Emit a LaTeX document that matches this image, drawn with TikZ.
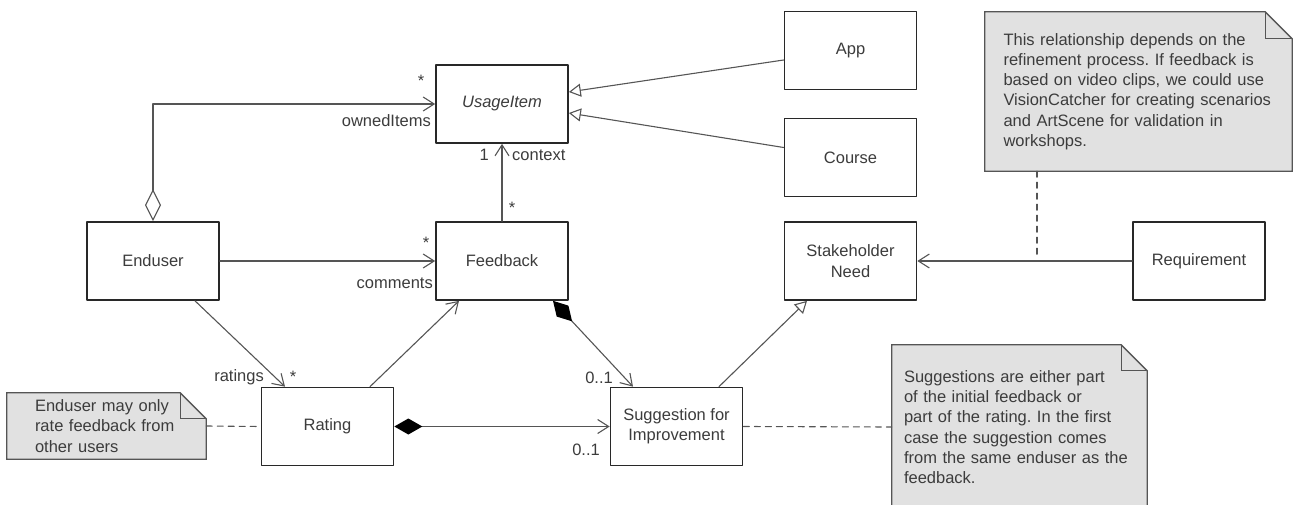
\documentclass[tikz,border=0pt]{standalone}
\usepackage{fontspec}
\setmainfont{Liberation Sans}
\usetikzlibrary{arrows.meta,backgrounds}
\frenchspacing

\definecolor{boxline}{RGB}{40,40,40}
\definecolor{linegray}{RGB}{85,85,85}
\definecolor{umltext}{RGB}{60,60,60}
\definecolor{notegray}{RGB}{225,225,225}
\definecolor{noteline}{RGB}{85,85,85}

\tikzset{
  classbox/.style={draw=boxline,line width=1.7pt,fill=white,minimum width=132pt,minimum height=78pt,inner sep=2pt,align=center,text=umltext},
  notebox/.style={inner sep=0pt,align=left,text=umltext},
  lbl/.style={inner sep=0pt,text=umltext},
  conn/.style={draw=linegray,line width=1.1pt},
  assoc/.style={conn,-{Straight Barb[length=11pt,width=14pt]}},
  aggr/.style={conn,{Diamond[open,length=32pt,width=16pt]}-{Straight Barb[length=11pt,width=14pt]}},
  comp/.style={conn,{Diamond[length=28pt,width=16pt,color=black,fill=black]}-{Straight Barb[length=11pt,width=14pt]}},
  gener/.style={conn,-{Triangle[open,length=12pt,width=13pt]}},
  notelink/.style={draw=linegray,line width=1.1pt,dash pattern=on 6pt off 5pt}
}

% folded corner drawn behind a note node
\newcommand{\notefold}[2]{%
  \begin{pgfonlayer}{background}
  \filldraw[fill=notegray,draw=noteline,line width=1.3pt] (#1.south west) -- (#1.north west) -- ([xshift=-#2]#1.north east) -- ([yshift=-#2]#1.north east) -- (#1.south east) -- cycle;
  \draw[draw=noteline,line width=1.3pt] ([xshift=-#2]#1.north east) |- ([yshift=-#2]#1.north east);
  \end{pgfonlayer}}

\begin{document}
\begin{tikzpicture}[line cap=round,line join=round,x=1pt,y=-1pt,font=\fontsize{16.5}{20.3}\selectfont]
\useasboundingbox (0,0) rectangle (1293,505);
\clip (0,0) rectangle (1293,505);

% classes
\node[classbox] (usage) at (502,104) {\itshape UsageItem};
\node[classbox] (app) at (850.5,50.5) {App};
\node[classbox] (course) at (850.5,157.5) {Course};
\node[classbox] (need) at (850.5,261) {Stakeholder\\Need};
\node[classbox] (req) at (1199,261) {Requirement};
\node[classbox] (enduser) at (153,261) {Enduser};
\node[classbox] (feedback) at (502,261) {Feedback};
\node[classbox] (rating) at (327.5,426.5) {Rating};
\node[classbox] (suggestion) at (676.5,426.5) {Suggestion for\\Improvement};

% notes
\node[notebox,minimum width=307pt,minimum height=159pt,text width=270pt] (note1) at (1138.5,91.5) {This relationship depends on the\\refinement process. If feedback is\\based on video clips, we could use\\VisionCatcher for creating scenarios\\and ArtScene for validation in\\workshops.};
\notefold{note1}{27pt}
\node[notebox,minimum width=199pt,minimum height=66pt,text width=143pt] (note2) at (106.5,426) {Enduser may only\\rate feedback from\\other users};
\notefold{note2}{26pt}
\node[notebox,minimum width=255pt,minimum height=164pt,text width=231pt] (note3) at (1019.5,427) {Suggestions are either part\\of the initial feedback or\\part of the rating. In the first\\case the suggestion comes\\from the same enduser as the\\feedback.};
\notefold{note3}{26pt}

% associations
\draw[aggr] (enduser.north) |- (usage.west);
\draw[assoc] (feedback.north) -- (usage.south);
\draw[assoc] (enduser.east) -- (feedback.west);
\draw[assoc] ([xshift=42pt]enduser.south) -- ([xshift=-42.5pt]rating.north);
\draw[assoc] ([xshift=42.5pt]rating.north) -- ([xshift=-43pt]feedback.south);
\draw[comp] ([xshift=51pt]feedback.south) -- ([xshift=-43.5pt]suggestion.north);
\draw[comp] (rating.east) -- (suggestion.west);
\draw[assoc] (req.west) -- (need.east);

% generalizations
\draw[gener] ([yshift=-9.5pt]app.west) -- ([yshift=12pt]usage.east);
\draw[gener] ([yshift=10pt]course.west) -- ([yshift=-9pt]usage.east);
\draw[gener] ([xshift=42.5pt]suggestion.north) -- ([xshift=-43.5pt]need.south);

% note links
\coordinate (link) at ([xshift=-101.5pt]note1.south);
\draw[notelink] (link) -- ([yshift=4pt]link |- req.west);
\draw[notelink] (note2.east) -- (rating.west);
\draw[notelink] (suggestion.east) -- (note3.west);

% role names and multiplicities
\node[lbl,anchor=base] (m1) at (421,87) {*};
\node[lbl,anchor=base east] (r1) at (431,127) {ownedItems};
\node[lbl,anchor=base east] (m2) at (489,161) {1};
\node[lbl,anchor=base west] (r2) at (512,161) {context};
\node[lbl,anchor=base] (m3) at (512,214) {*};
\node[lbl,anchor=base] (m4) at (426,248) {*};
\node[lbl,anchor=base east] (r3) at (433,288) {comments};
\node[lbl,anchor=base east] (r4) at (264,381) {ratings};
\node[lbl,anchor=base] (m5) at (293,382) {*};
\node[lbl,anchor=base east] (m6) at (613,383) {0..1};
\node[lbl,anchor=base east] (m7) at (600,455) {0..1};
\end{tikzpicture}
\end{document}
